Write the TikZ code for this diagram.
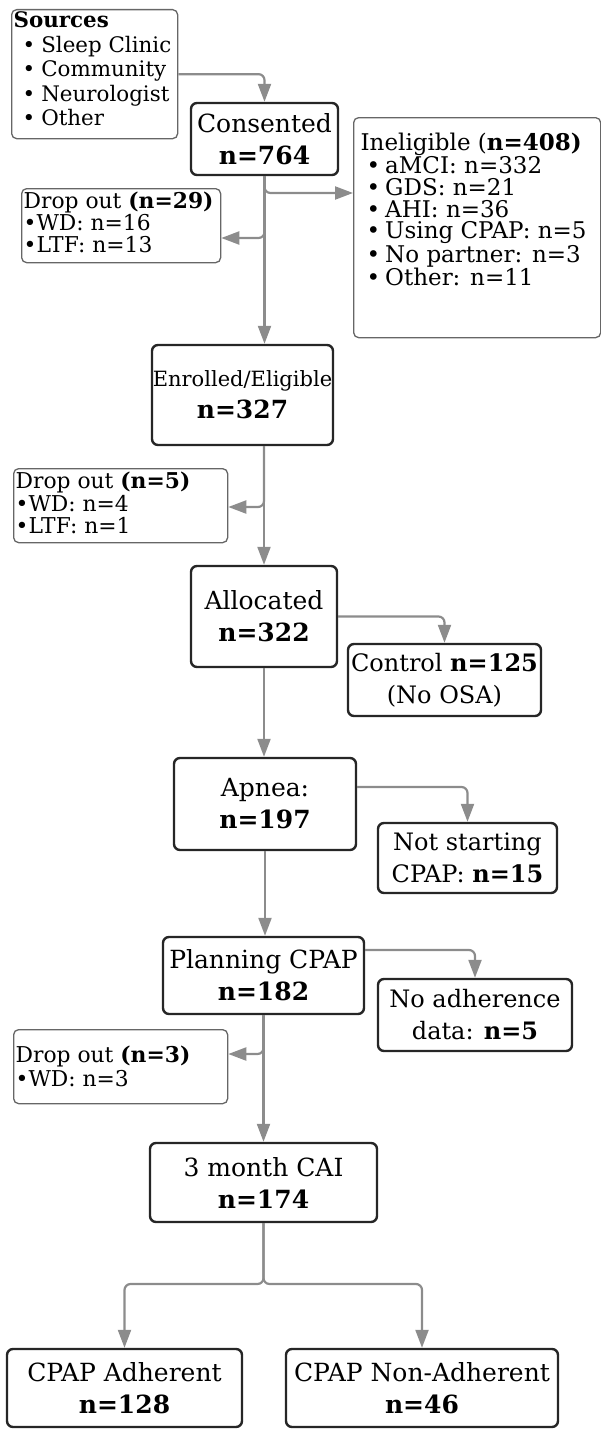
\documentclass[tikz,border=0pt]{standalone}
\usepackage{fontspec}
\setmainfont{DejaVu Serif}
\usetikzlibrary{arrows.meta}
\lineskiplimit=-100pt

\begin{document}
\begin{tikzpicture}[x=1pt,y=-1pt,
	mainbox/.style={draw=black!85,line width=2.4pt,rounded corners=6pt,fill=white,align=center,inner sep=0pt,font=\fontsize{25}{32}\selectfont},
	sidebox/.style={mainbox,font=\fontsize{24}{32}\selectfont},
	listbox/.style={draw=black!60,line width=1.3pt,rounded corners=5pt,fill=white,inner xsep=2pt,inner ysep=0pt,anchor=north west},
	flow/.style={draw=black!45,line width=2.2pt,rounded corners=6pt,-{Triangle[length=18pt,width=13pt]}}]
		\useasboundingbox (0,0) rectangle (601,1429);
		
		\node[listbox,font=\fontsize{21.4}{24.5}\selectfont] (sources) at (11,9) {\parbox[b][129pt][t]{162pt}{\rule{0pt}{18pt}\textbf{Sources}\\
			\hspace*{9pt}•\hspace{6pt}Sleep Clinic\\
			\hspace*{9pt}•\hspace{6pt}Community\\
			\hspace*{9pt}•\hspace{6pt}Neurologist\\
			\hspace*{9pt}•\hspace{6pt}Other}};
		\node[mainbox,minimum width=147pt,minimum height=72pt] (consented) at (264.5,139) {Consented\\\textbf{n=764}};
		\node[listbox,font=\fontsize{23}{21.7}\selectfont] (inelig) at (353,117) {\parbox[b][220pt][t]{243pt}{\rule{0pt}{33pt}\hspace*{5pt}Ineligible (\textbf{n=408)}\\
			\hspace*{11pt}•\hspace{5pt}aMCI: n=332\\
			\hspace*{11pt}•\hspace{5pt}GDS: n=21\\
			\hspace*{11pt}•\hspace{5pt}AHI: n=36\\
			\hspace*{11pt}•\hspace{5pt}Using CPAP: n=5\\
			\hspace*{11pt}•\hspace{5pt}No partner: n=3\\
			\hspace*{11pt}•\hspace{5pt}Other: n=11}};
		\node[listbox,font=\fontsize{21.8}{22}\selectfont] (drop1) at (21,188) {\parbox[b][74pt][t]{195pt}{\rule{0pt}{20pt}Drop out \textbf{(n=29)}\\•WD: n=16\\•LTF: n=13}};
		\node[mainbox,minimum width=181pt,minimum height=100pt] (enrolled) at (242.5,395) {{\fontsize{21}{32}\selectfont Enrolled/Eligible}\\\textbf{n=327}};
		\node[listbox,font=\fontsize{21.8}{22.5}\selectfont] (drop2) at (13,468) {\parbox[b][74pt][t]{210pt}{\rule{0pt}{20pt}Drop out \textbf{(n=5)}\\•WD: n=4\\•LTF: n=1}};
		\node[mainbox,minimum width=146pt,minimum height=101pt] (allocated) at (264,616.5) {Allocated\\\textbf{n=322}};
		\node[sidebox,minimum width=193pt,minimum height=72pt] (control) at (444.5,680) {Control \textbf{n=125}\\(No OSA)};
		\node[mainbox,minimum width=182pt,minimum height=92pt] (apnea) at (265,804) {Apnea:\\\textbf{n=197}};
		\node[sidebox,minimum width=179pt,minimum height=70pt] (notstart) at (467.5,858) {Not starting\\CPAP: \textbf{n=15}};
		\node[mainbox,minimum width=201pt,minimum height=77pt] (planning) at (263.5,975.5) {Planning CPAP\\\textbf{n=182}};
		\node[sidebox,minimum width=194pt,minimum height=72pt] (noadh) at (475,1015) {No adherence\\data: \textbf{n=5}};
		\node[listbox,font=\fontsize{21.8}{24}\selectfont] (drop3) at (13,1029) {\parbox[b][74pt][t]{210pt}{\rule{0pt}{33pt}Drop out \textbf{(n=3)}\\•WD: n=3}};
		\node[mainbox,minimum width=227pt,minimum height=79pt] (threemonth) at (263.5,1182.5) {3 month CAI\\\textbf{n=174}};
		\node[mainbox,minimum width=235pt,minimum height=78pt] (adherent) at (124.5,1388) {CPAP Adherent\\\textbf{n=128}};
		\node[mainbox,minimum width=272pt,minimum height=78pt] (nonadh) at (422,1388) {CPAP Non-Adherent\\\textbf{n=46}};
		
		\coordinate (spine1) at (264.5,193);
		\coordinate (spine2) at (264.5,238);
		\coordinate (spine3) at (264.5,507);
		\coordinate (spine4) at (263.5,1054);
		\coordinate (split) at (263.5,1284);
		
		\draw[flow] (sources.east) -| (consented.north);
		\draw[flow] (consented.south) -- (enrolled.north -| consented.south);
		\draw[flow] (consented.south) |- (spine1 -| inelig.west);
		\draw[flow] (consented.south) |- (spine2 -| drop1.east);
		\draw[flow] (enrolled.south -| allocated.north) -- (allocated.north);
		\draw[flow] (enrolled.south -| allocated.north) |- (spine3 -| drop2.east);
		\draw[flow] (allocated.east) -| (control.north);
		\draw[flow] (allocated.south) -- (apnea.north -| allocated.south);
		\draw[flow] ([yshift=17pt]apnea.east) -| (notstart.north);
		\draw[flow] (apnea.south) -- (planning.north -| apnea.south);
		\draw[flow] ([yshift=25.5pt]planning.east) -| (noadh.north);
		\draw[flow] (planning.south) -- (threemonth.north -| planning.south);
		\draw[flow] (planning.south) |- (spine4 -| drop3.east);
		\draw[flow] (threemonth.south) -- (split) -| (adherent.north);
		\draw[flow] (threemonth.south) -- (split) -| (nonadh.north);
\end{tikzpicture}
\end{document}
